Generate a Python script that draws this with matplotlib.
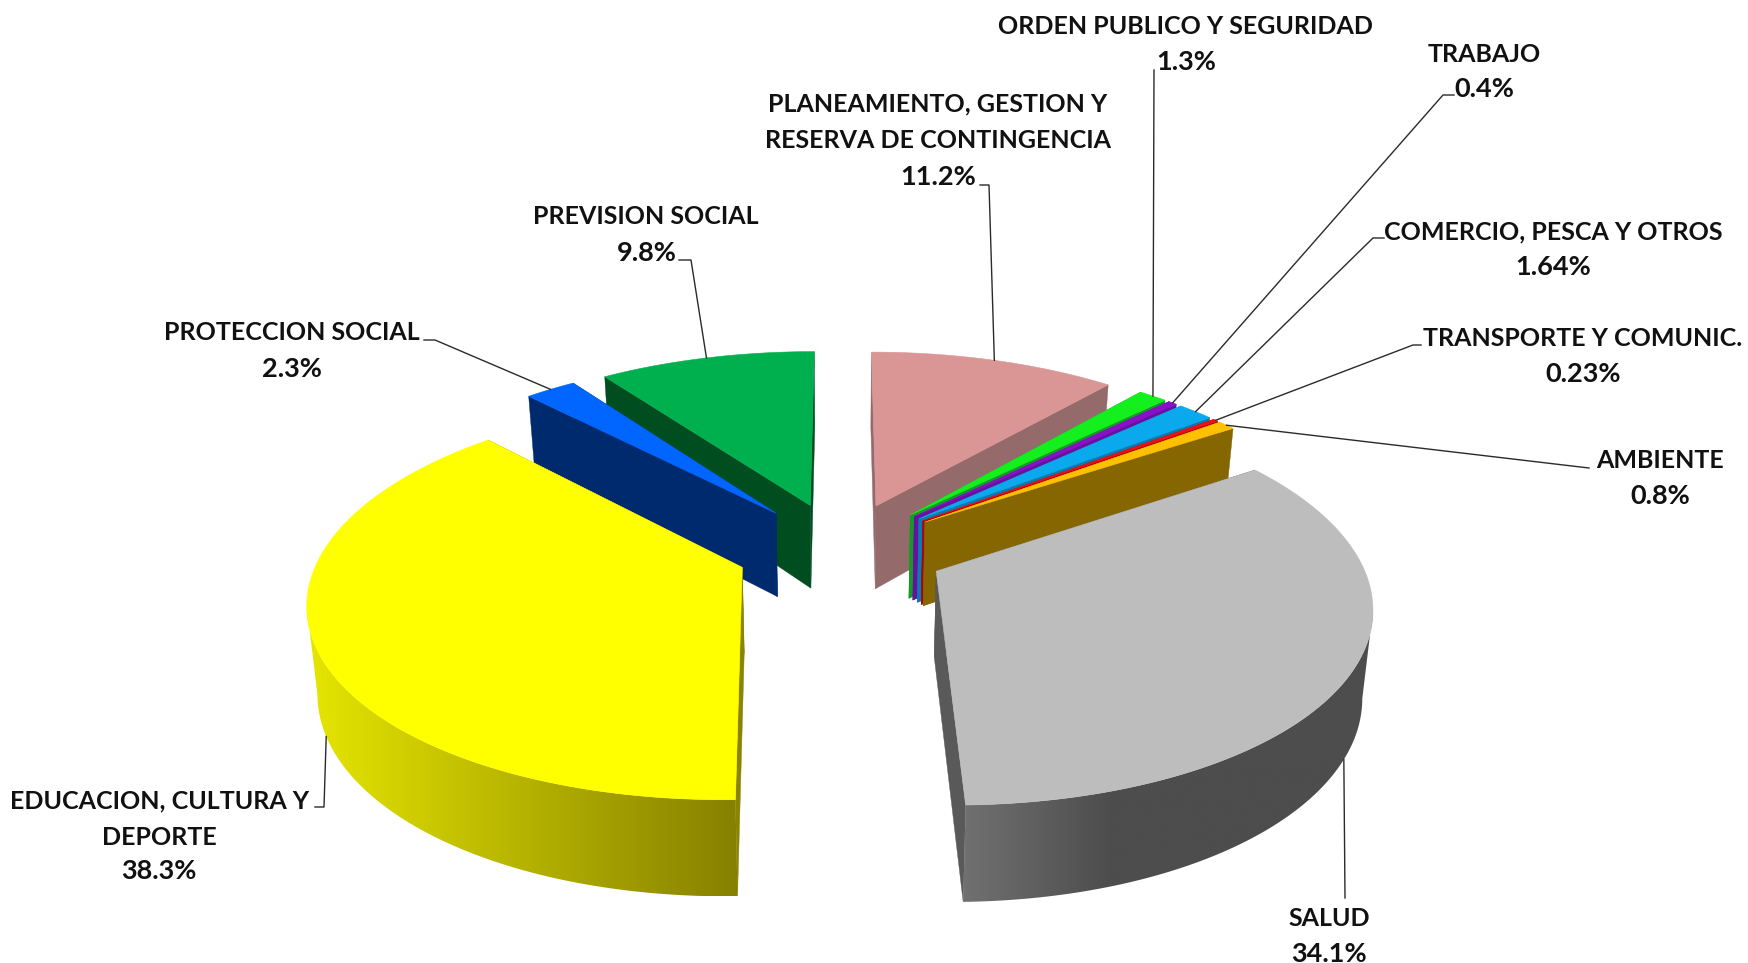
import numpy as np
import matplotlib
matplotlib.use('Agg')
import matplotlib.pyplot as plt
from matplotlib.colors import to_rgb
from matplotlib.patches import Polygon

# Slices, clockwise from 12 o'clock
categories = ['PLANEAMIENTO, GESTION Y\nRESERVA DE CONTINGENCIA', 'ORDEN PUBLICO Y SEGURIDAD', 'TRABAJO',
              'COMERCIO, PESCA Y OTROS', 'TRANSPORTE Y COMUNIC.', 'AMBIENTE', 'SALUD',
              'EDUCACION, CULTURA Y\nDEPORTE', 'PROTECCION SOCIAL', 'PREVISION SOCIAL']
values = [11.2, 1.3, 0.4, 1.64, 0.23, 0.8, 34.1, 38.3, 2.3, 9.8]
value_labels = ['11.2%', '1.3%', '0.4%', '1.64%', '0.23%', '0.8%', '34.1%', '38.3%', '2.3%', '9.8%']

top_colors = ['#d99694', '#14f01e', '#8a10c8', '#0aa8ec', '#ee1111', '#ffc000', '#bdbdbd', '#ffff00', '#0066ff', '#00b04f']
side_colors = ['#956a6a', '#149a28', '#6a10a0', '#0a7ab0', '#b00010', '#866600', '#595959', '#8a8400', '#002a6e', '#004d20']

# wall shading by horizontal position, only the two big slices have it
wall_grad = {6: ([966, 1110, 1380], ['#707070', '#4d4d4d', '#4d4d4d']),
             7: ([306, 738], ['#e6e600', '#868000'])}

# label centres and leader routes in image pixels
name_pos = [(938, 122), (1186, 27), (1484, 54), (1553, 232), (1583, 339), (1660, 460), (1329, 919), (159, 819), (292, 332), (646, 217)]
value_pos = [(938, 177), (1186, 62), (1484, 89), (1553, 267), (1583, 374), (1660, 496), (1329, 954), (159, 871), (292, 369), (647, 253)]
leader_route = [[(980, 185), (989, 185)], [(1154, 70)], [(1454, 95), (1443, 95)], [(1384, 238), (1373, 238)],
                [(1421, 345), (1413, 345)], [(1589, 468), (1572, 466)], [(1345, 898)],
                [(315, 807), (324, 807)], [(424, 340), (435, 340)], [(679, 260), (691, 260)]]
leader_bottom = [False, False, False, False, False, False, True, True, False, False]

# pie geometry
cx, cy = 841, 549
rx, ry = 421, 190
depth = 85
explode = 0.25
persp = 0.155
persp_h = 0.11
low_scale = 0.98

fractions = np.array(values) / sum(values)
edges = np.concatenate([[0], np.cumsum(fractions)]) * 2 * np.pi


def project(X, Y, low=False):
    X = np.asarray(X, dtype=float)
    Y = np.asarray(Y, dtype=float)
    s = 1 / (1 - persp * Y)
    px = cx + rx * X * s
    py = cy + ry * Y * s
    if low:
        px = cx + (px - cx) * low_scale
        py = py + depth / (1 - persp_h * Y)
    return px, py


def slice_offset(i):
    mid = (edges[i] + edges[i + 1]) / 2
    return explode * np.sin(mid), -explode * np.cos(mid)


def rim(i, theta):
    ox, oy = slice_offset(i)
    return ox + np.sin(theta), oy - np.cos(theta)


fig = plt.figure(figsize=(17.48, 9.63), dpi=100)
ax = fig.add_axes([0, 0, 1, 1])

# back slices first
order = sorted(range(len(values)), key=lambda i: slice_offset(i)[1])
for z, i in enumerate(order):
    zo = 2 + z
    ox, oy = slice_offset(i)
    thetas = np.linspace(edges[i], edges[i + 1], max(6, int(fractions[i] * 400)) + 1)
    X, Y = rim(i, thetas)
    tx, ty = project(X, Y)
    bx, by = project(X, Y, low=True)
    ax0, ay0 = project(ox, oy)
    ax1, ay1 = project(ox, oy, low=True)

    # cut faces
    for k in [0, -1]:
        ax.fill([ax0, tx[k], bx[k], ax1], [ay0, ty[k], by[k], ay1],
                color=side_colors[i], lw=0.3, zorder=zo)

    # outer wall, the part of the rim running right to left is the front
    seen = np.gradient(tx) < 0
    if seen.sum() > 1:
        wall_xy = np.column_stack([np.concatenate([tx[seen], bx[seen][::-1]]),
                                   np.concatenate([ty[seen], by[seen][::-1]])])
        if i in wall_grad:
            xp, cols = wall_grad[i]
            rgb = np.array([to_rgb(c) for c in cols])
            grid = np.linspace(wall_xy[:, 0].min(), wall_xy[:, 0].max(), 512)
            img = np.stack([np.interp(grid, xp, rgb[:, k]) for k in range(3)], axis=-1)[np.newaxis, :, :]
            im = ax.imshow(img, extent=[grid[0], grid[-1], wall_xy[:, 1].max(), wall_xy[:, 1].min()],
                           aspect='auto', zorder=zo, interpolation='bilinear')
            im.set_clip_path(Polygon(wall_xy, closed=True, transform=ax.transData))
        else:
            ax.fill(wall_xy[:, 0], wall_xy[:, 1], color=side_colors[i], lw=0, zorder=zo)

    # top
    ax.fill(np.concatenate([[ax0], tx]), np.concatenate([[ay0], ty]),
            color=top_colors[i], lw=0.4, zorder=zo)

ax.set_xlim(0, 1748)
ax.set_ylim(963, 0)
ax.axis('off')

# leaders
for i, route in enumerate(leader_route):
    X, Y = rim(i, (edges[i] + edges[i + 1]) / 2)
    px, py = project(X, Y, low=leader_bottom[i])
    xs = [p[0] for p in route] + [float(px)]
    ys = [p[1] for p in route] + [float(py)]
    ax.plot(xs, ys, color='#2a2a2a', lw=1.0, zorder=30)

# labels
plt.rcParams['font.family'] = ['Lato', 'DejaVu Sans']
for i in range(len(values)):
    ax.text(name_pos[i][0], name_pos[i][1], categories[i], ha='center', va='center', fontsize=18,
            fontweight='bold', color='#111111', linespacing=1.72, zorder=40)
    ax.text(value_pos[i][0], value_pos[i][1], value_labels[i], ha='center', va='center', fontsize=19.5,
            fontweight='bold', color='#111111', zorder=40)

fig.savefig('out.png', dpi=100, facecolor='white')
plt.close(fig)
